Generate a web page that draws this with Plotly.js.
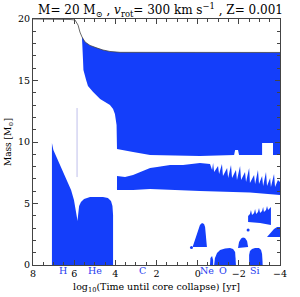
<!DOCTYPE html>
<html>
<head>
<meta charset="utf-8">
<script src="https://cdn.plot.ly/plotly-3.0.1.min.js"></script>
<style>html,body{margin:0;padding:0;background:#fff;}#chart{width:300px;height:297px;}</style>
</head>
<body>
<div id="chart"></div>
<script>
// Total mass (black line)
var massX = [8, 6.83, 6.20, 5.96, 5.81, 5.72, 5.62, 5.47, 5.23, 4.89, 4.60, 4.26, 3.77, -4];
var massY = [20, 20, 19.96, 19.92, 19.5, 18.94, 18.54, 18.13, 17.85, 17.64, 17.48, 17.36, 17.29, 17.28];

// Convective envelope
var envX = [5.62, 5.47, 5.23, 4.89, 4.60, 4.26, 3.77, -4,
            -4, -3.66, -3.66, -3.13, -3.13, -2.01, -1.96, -1.82, -1.77, -0.11, 2.31, 3.14, 3.92,
            3.92, 3.94, 4.02, 4.11, 4.26, 4.74, 5.08, 5.33, 5.42, 5.55, 5.57, 5.59, 5.62];
var envY = [18.54, 18.13, 17.85, 17.64, 17.48, 17.36, 17.29, 17.28,
            8.94, 8.94, 9.92, 9.92, 8.94, 8.94, 9.35, 9.35, 8.94, 8.86, 8.94, 9.19, 9.43,
            9.51, 11.38, 12.28, 12.68, 13.01, 13.50, 14.07, 14.55, 15.04, 15.85, 16.67, 17.48, 18.46];

// Intermediate convective shell (H shell)
var shellX = [3.92, 3.53, 3.14, 2.80, 2.31, 1.97, 1.34, 0.71, -0.11, -0.60,
              -0.70, -0.75, -0.80, -0.99, -1.04, -1.18, -1.23, -1.43, -1.48, -1.62, -1.67, -1.86, -1.91,
              -2.06, -2.11, -2.30, -2.35, -2.50, -2.54, -2.74, -2.79, -2.93, -2.98, -3.13, -3.18,
              -3.32, -3.37, -3.52, -3.56, -3.71, -3.76, -3.90, -4.0,
              -4.0, -2.54, -0.11, 2.31, 3.14, 3.92];
var shellY = [7.24, 7.15, 7.32, 7.56, 7.89, 7.97, 8.13, 8.13, 8.29, 8.21,
              7.72, 8.29, 7.56, 8.05, 7.40, 8.21, 7.24, 7.89, 7.07, 8.13, 7.07, 7.72, 6.91,
              8.05, 6.91, 7.56, 6.75, 7.89, 6.67, 7.32, 6.59, 7.72, 6.59, 7.24, 6.42,
              7.56, 6.42, 7.07, 6.34, 7.40, 6.34, 6.91, 6.75,
              5.69, 5.89, 6.02, 6.18, 6.10, 6.10];

// H and He burning convective cores
var coreX = [7.08, 7.08, 7.01, 6.83, 6.59, 6.35, 6.15, 6.01, 5.91, 5.86, 5.84,
             5.81, 5.76, 5.67, 5.52, 5.23, 4.60, 4.36, 4.21, 4.14, 4.11, 4.11];
var coreY = [0, 9.92, 9.35, 8.70, 7.72, 6.91, 6.10, 5.28, 4.47, 3.82, 3.58,
             4.31, 4.80, 5.12, 5.37, 5.53, 5.53, 5.45, 5.20, 4.80, 4.07, 0];

// Thin trace above the H core
var thinX = [5.86, 5.86];
var thinY = [12.76, 7.15];

// C shell
var cX = [0.23, 0.13, -0.02, -0.11, -0.21, -0.31, -0.36, -0.41, -0.45, -0.45, 0.23];
var cY = [1.54, 2.03, 2.93, 3.25, 3.41, 3.33, 3.09, 2.36, 1.63, 1.46, 1.46];

// Ne
var neX = [-0.60, -0.62, -0.70, -0.75, -0.75];
var neY = [0, 0.57, 0.73, 0.41, 0];

// O core
var oX = [-0.80, -0.84, -0.94, -1.09, -1.33, -1.57, -1.72, -1.82, -1.84, -1.86];
var oY = [0, 0.57, 0.98, 1.22, 1.34, 1.38, 1.30, 1.06, 0.57, 0];

// O shell
var osX = [-1.96, -2.01, -2.11, -2.20, -2.30, -2.40, -2.45];
var osY = [1.38, 1.87, 2.15, 2.24, 2.20, 1.95, 1.46];

// Si core
var siX = [-2.50, -2.50, -2.54, -2.64, -2.79, -2.98, -3.08, -3.13, -3.16];
var siY = [0, 0.81, 1.14, 1.30, 1.38, 1.38, 1.22, 0.89, 0];

// Si shell
var sisX = [-3.37, -3.52, -3.71, -3.86, -4.0, -4.0];
var sisY = [2.28, 2.60, 2.93, 3.09, 3.09, 2.28];

// Late spiky shell
var spX = [-2.45, -2.45, -2.54, -2.59, -2.64, -2.74, -2.79, -2.84, -2.93, -2.98, -3.03, -3.13, -3.18,
           -3.22, -3.32, -3.37, -3.42, -3.52, -3.56, -3.56, -3.03, -2.45];
var spY = [3.50, 3.98, 4.15, 4.47, 4.07, 4.23, 4.55, 4.15, 4.31, 4.63, 4.23, 4.39, 4.72,
           4.31, 4.47, 4.80, 4.47, 4.72, 4.72, 3.25, 3.41, 3.50];

// Isolated dots
var dotX = [0.30, -2.45];
var dotY = [1.42, 2.85];

// Burning-phase labels
var phaseText = ["H", "He", "C", "Ne", "O", "Si"];
var phaseX = [6.54, 4.99, 2.66, -0.45, -1.23, -2.79];

var xTicks = [8, 6, 4, 2, 0, -2, -4];
var yTicks = [0, 5, 10, 15, 20];

var BLUE = "rgb(20,62,250)";
function poly(x, y) {
  return {x: x, y: y, type: "scatter", mode: "lines", fill: "toself",
          fillcolor: BLUE, line: {width: 0, color: BLUE}, hoverinfo: "skip", showlegend: false};
}
var data = [
  poly(envX, envY), poly(shellX, shellY), poly(coreX, coreY), poly(cX, cY), poly(neX, neY),
  poly(oX, oY), poly(osX, osY), poly(siX, siY), poly(sisX, sisY), poly(spX, spY),
  {x: thinX, y: thinY, type: "scatter", mode: "lines", line: {color: "rgb(175,175,230)", width: 0.8}, showlegend: false},
  {x: dotX, y: dotY, type: "scatter", mode: "markers", marker: {color: BLUE, size: 3}, showlegend: false},
  {x: massX, y: massY, type: "scatter", mode: "lines", line: {color: "#444", width: 0.8}, showlegend: false}
];

var SERIF = "DejaVu Serif, Liberation Serif, serif";
var annotations = phaseText.map(function (t, i) {
  return {x: phaseX[i], y: -0.024, xref: "x", yref: "paper", text: t, showarrow: false,
          xanchor: "center", yanchor: "middle", font: {family: SERIF, size: 9.5, color: "rgb(40,60,240)"}};
});

var layout = {
  width: 300, height: 297,
  margin: {l: 33, r: 20, t: 19, b: 32},
  paper_bgcolor: "#fff", plot_bgcolor: "#fff",
  showlegend: false,
  title: {text: "M= 20 M<sub>⊙</sub> , <i>v</i><sub>rot</sub>= 300 km s<sup>−1</sup> , Z= 0.001",
          font: {family: SERIF, size: 12, color: "#000"}, x: 0.535, xanchor: "center", y: 0.967, yanchor: "middle"},
  xaxis: {range: [8, -4], tickvals: xTicks, ticktext: xTicks.map(String).map(function(s){return s.replace("-", "−");}),
          ticks: "inside", ticklen: 5, tickcolor: "#444", showline: true, linecolor: "#444", linewidth: 1,
          mirror: "ticks", showgrid: false, zeroline: false,
          minor: {dtick: 0.5, ticks: "inside", ticklen: 3, tickcolor: "#444"},
          tickfont: {family: SERIF, size: 9.5, color: "#000"},
          title: {text: "log<sub>10</sub>(Time until core collapse) [yr]", font: {family: SERIF, size: 9.5, color: "#000"}, standoff: 4},
          automargin: false},
  yaxis: {range: [0, 20], tickvals: yTicks,
          ticks: "inside", ticklen: 5, tickcolor: "#444", showline: true, linecolor: "#444", linewidth: 1,
          mirror: "ticks", showgrid: false, zeroline: false,
          minor: {dtick: 1, ticks: "inside", ticklen: 3, tickcolor: "#444"},
          tickfont: {family: SERIF, size: 9.5, color: "#000"},
          title: {text: "Mass [M<sub>⊙</sub>]", font: {family: SERIF, size: 9, color: "#000"}, standoff: 4},
          automargin: false},
  annotations: annotations
};

Plotly.newPlot("chart", data, layout, {displayModeBar: false, staticPlot: true});
</script>
</body>
</html>
